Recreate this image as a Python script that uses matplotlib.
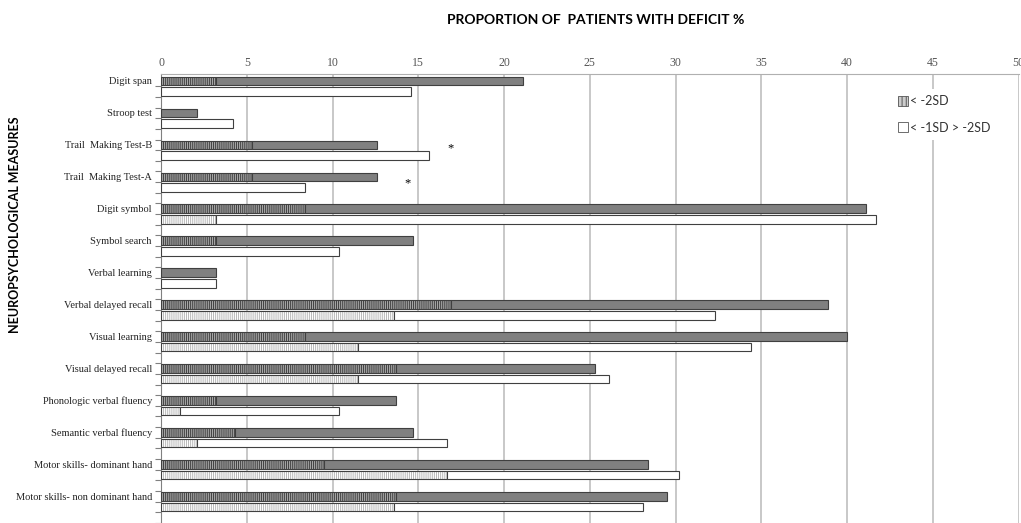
import numpy as np
import matplotlib.pyplot as plt
from matplotlib.patches import Patch

# rows are read top to bottom
tests = ["Digit span", "Stroop test", "Trail  Making Test-B", "Trail  Making Test-A",
         "Digit symbol", "Symbol search", "Verbal learning", "Verbal delayed recall",
         "Visual learning", "Visual delayed recall", "Phonologic verbal fluency",
         "Semantic verbal fluency", "Motor skills- dominant hand",
         "Motor skills- non dominant hand"]

#* upper bar: hatched part (< -2SD) and where the bar ends
upper_sd2 = [3.2, 0, 5.3, 5.3, 8.4, 3.2, 0, 16.9, 8.4, 13.7, 3.2, 4.3, 9.5, 13.7]
upper_total = [21.1, 2.1, 12.6, 12.6, 41.1, 14.7, 3.2, 38.9, 40.0, 25.3, 13.7, 14.7, 28.4, 29.5]

#* lower bar: hatched part and where the bar ends
lower_sd2 = [0, 0, 0, 0, 3.2, 0, 0, 13.6, 11.5, 11.5, 1.1, 2.1, 16.7, 13.6]
lower_total = [14.6, 4.2, 15.6, 8.4, 41.7, 10.4, 3.2, 32.3, 34.4, 26.1, 10.4, 16.7, 30.2, 28.1]

xticks = np.arange(0, 51, 5)

plt.rcParams['hatch.linewidth'] = 0.7

fig = plt.figure(figsize=(10.21, 5.23), dpi=100)
ax = fig.add_axes([0.1577, 0.0, 0.8399, 0.8585])

n = len(tests)
y_up = np.arange(n) * 3
y_lo = y_up + 1
h = 0.8

up_sd2 = np.array(upper_sd2)
up_tot = np.array(upper_total)
lo_sd2 = np.array(lower_sd2)
lo_tot = np.array(lower_total)

plt.rcParams['hatch.color'] = '#5a5a5a'
ax.barh(y_up, up_sd2, height=h, color='#a6a6a6', edgecolor='#404040',
        hatch='||||||||', linewidth=0.8, zorder=3)
ax.barh(y_up, up_tot - up_sd2, left=up_sd2, height=h, color='#808080',
        edgecolor='#404040', linewidth=0.8, zorder=3)

lo_h = ax.barh(y_lo, lo_sd2, height=h, color='white', edgecolor='#404040',
               hatch='||||||||', linewidth=0.8, zorder=3)
for b in lo_h:
    b._hatch_color = (0.72, 0.72, 0.72, 1.0)
ax.barh(y_lo, lo_tot - lo_sd2, left=lo_sd2, height=h, color='white',
        edgecolor='#404040', linewidth=0.8, zorder=3)

ax.set_xlim(0, 50)
ax.set_ylim(41.2, -0.65)
ax.set_xticks(xticks)
ax.xaxis.tick_top()
ax.tick_params(axis='x', length=0, pad=3.5, labelsize=8.5, labelcolor='#555555')
for lbl in ax.get_xticklabels():
    lbl.set_family('Liberation Serif')
ax.grid(axis='x', color='#c4c4c4', linewidth=1.3, zorder=0)

ax.set_yticks(y_up)
ax.set_yticklabels(tests, family='Liberation Serif', fontsize=7.5, color='#222222')
ax.set_yticks(np.arange(0, 3 * n) + 0.5, minor=True)
ax.tick_params(axis='y', which='major', length=0, pad=6.5)
ax.tick_params(axis='y', which='minor', length=4, color='#808080', width=0.8)

for s in ['right', 'bottom']:
    ax.spines[s].set_visible(False)
ax.spines['top'].set_color('#b0b0b0')
ax.spines['left'].set_color('#808080')

ax.text(16.9, 6.3, '*', ha='center', va='center', fontsize=9, family='Liberation Serif')
ax.text(14.35, 9.6, '*', ha='center', va='center', fontsize=9, family='Liberation Serif')

handles = [Patch(facecolor='#cccccc', edgecolor='#555555', hatch='||||', linewidth=0.6),
           Patch(facecolor='white', edgecolor='#555555', linewidth=0.6)]
leg = fig.legend(handles, ['< -2SD', '< -1SD > -2SD'], loc='upper left',
                 bbox_to_anchor=(0.867, 0.842), frameon=True, framealpha=1,
                 edgecolor='none', handlelength=0.8, handleheight=0.8,
                 handletextpad=0.2, labelspacing=1.15, borderpad=0.5,
                 prop={'family': 'Lato', 'size': 9})
for t in leg.get_texts():
    t.set_color('#333333')

fig.text(0.583, 0.962, 'PROPORTION OF  PATIENTS WITH DEFICIT %', ha='center', va='center',
         fontsize=10, fontweight='bold', family='Lato')
fig.text(0.015, 0.57, 'NEUROPSYCHOLOGICAL MEASURES', rotation=90, ha='center', va='center',
         fontsize=9, fontweight='bold', family='Lato')

fig.savefig('out.png', dpi=100)
